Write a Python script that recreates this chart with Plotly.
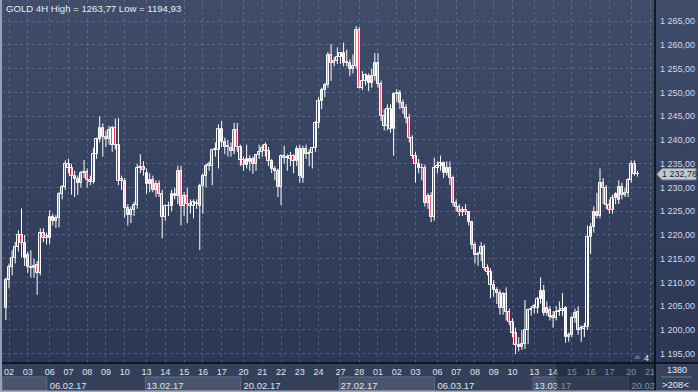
import plotly.graph_objects as go
import pandas as pd

# ---------------- data ----------------
opens = [
    1204.6, 1210.5, 1213.3, 1215.1, 1217.5, 1220.0, 1218.3, 1215.7, 1213.3, 1213.0,
    1213.6, 1212.0, 1220.5, 1219.3, 1219.3, 1223.7, 1223.0, 1223.5, 1228.7, 1230.0,
    1235.0, 1234.0, 1232.5, 1231.8, 1231.0, 1233.0, 1233.3, 1231.5, 1231.2, 1237.0,
    1240.3, 1242.6, 1240.7, 1240.2, 1239.0, 1242.5, 1239.0, 1231.4, 1231.4, 1225.6,
    1224.3, 1225.3, 1226.3, 1234.2, 1234.4, 1233.0, 1230.8, 1231.5, 1229.4, 1230.8,
    1228.7, 1223.8, 1226.0, 1226.0, 1228.7, 1228.3, 1233.5, 1226.0, 1228.2, 1226.5,
    1226.0, 1226.5, 1226.2, 1230.3, 1232.5, 1234.6, 1234.6, 1237.8, 1237.8, 1242.4,
    1239.5, 1238.5, 1238.4, 1237.7, 1242.0, 1238.6, 1235.8, 1234.7, 1236.0, 1236.0,
    1235.0, 1236.8, 1237.5, 1239.0, 1237.7, 1235.5, 1233.8, 1233.5, 1230.0, 1236.6,
    1236.2, 1236.0, 1236.6, 1235.6, 1238.2, 1232.0, 1238.0, 1237.0, 1237.3, 1238.3,
    1243.5, 1248.2, 1250.5, 1251.5, 1257.8, 1256.2, 1256.6, 1257.5, 1258.3, 1256.2,
    1256.2, 1255.0, 1255.6, 1263.1, 1251.0, 1252.5, 1253.5, 1252.0, 1253.5, 1256.2,
    1251.8, 1245.0, 1243.0, 1246.6, 1242.4, 1249.7, 1249.9, 1247.8, 1246.8, 1244.7,
    1240.5, 1236.7, 1235.0, 1234.0, 1234.2, 1226.8, 1228.3, 1223.8, 1234.2, 1234.5,
    1235.2, 1233.1, 1234.0, 1231.9, 1226.8, 1225.8, 1224.8, 1225.3, 1224.8, 1222.7,
    1217.8, 1215.7, 1216.0, 1217.5, 1213.0, 1212.2, 1209.5, 1208.4, 1207.8, 1204.6,
    1207.5, 1203.8, 1201.7, 1199.4, 1196.9, 1196.5, 1197.0, 1200.0, 1204.2, 1205.0,
    1204.6, 1206.6, 1208.2, 1204.6, 1204.2, 1203.0, 1202.5, 1203.8, 1204.0, 1204.6,
    1198.6, 1198.9, 1202.5, 1203.8, 1200.0, 1200.2, 1200.6, 1219.5, 1221.6, 1224.8,
    1224.1, 1231.0, 1229.8, 1226.3, 1225.2, 1227.7, 1227.3, 1230.0, 1228.4, 1228.9,
    1231.5, 1235.0, 1232.9,
]
highs = [
    1211.0, 1214.0, 1216.8, 1218.5, 1221.0, 1225.6, 1220.0, 1216.5, 1216.8, 1215.0,
    1214.5, 1221.4, 1221.4, 1220.5, 1225.2, 1224.5, 1224.2, 1229.0, 1230.5, 1235.7,
    1236.0, 1235.0, 1233.5, 1232.5, 1233.5, 1235.8, 1234.0, 1232.5, 1238.4, 1240.5,
    1245.0, 1243.5, 1242.0, 1243.0, 1243.0, 1244.5, 1244.6, 1232.5, 1232.0, 1226.5,
    1226.0, 1227.0, 1235.0, 1237.0, 1235.5, 1234.0, 1233.0, 1232.5, 1231.5, 1231.5,
    1229.5, 1226.5, 1227.0, 1229.5, 1230.0, 1234.6, 1234.6, 1229.0, 1230.0, 1227.5,
    1227.5, 1227.5, 1230.8, 1233.0, 1235.0, 1235.5, 1238.0, 1239.5, 1243.3, 1244.0,
    1240.5, 1240.0, 1239.5, 1243.6, 1243.6, 1239.0, 1236.5, 1239.0, 1236.8, 1236.5,
    1237.0, 1239.0, 1239.0, 1239.5, 1238.5, 1236.0, 1234.5, 1234.0, 1237.0, 1238.8,
    1237.0, 1237.5, 1237.0, 1238.8, 1239.0, 1238.8, 1239.0, 1238.0, 1238.5, 1244.0,
    1249.0, 1251.0, 1252.0, 1258.5, 1260.2, 1257.5, 1259.5, 1258.5, 1260.5, 1259.0,
    1257.0, 1258.0, 1264.0, 1263.77, 1254.5, 1254.0, 1254.0, 1255.0, 1258.3, 1258.3,
    1252.5, 1246.5, 1247.5, 1247.5, 1250.0, 1250.7, 1250.5, 1248.5, 1247.5, 1245.5,
    1241.0, 1237.5, 1236.0, 1235.0, 1234.8, 1228.8, 1229.0, 1236.3, 1235.5, 1236.7,
    1235.5, 1235.5, 1235.5, 1232.5, 1227.5, 1226.5, 1226.0, 1226.5, 1225.0, 1223.0,
    1218.5, 1216.5, 1218.5, 1218.0, 1213.8, 1213.0, 1210.5, 1209.0, 1208.5, 1208.0,
    1209.0, 1204.5, 1202.5, 1200.5, 1198.5, 1200.0, 1206.3, 1204.5, 1205.0, 1205.5,
    1207.0, 1211.1, 1209.5, 1206.0, 1205.0, 1204.0, 1205.0, 1206.0, 1207.8, 1205.0,
    1199.5, 1203.0, 1204.5, 1205.0, 1201.0, 1201.5, 1222.0, 1222.5, 1226.0, 1228.9,
    1234.0, 1232.0, 1230.5, 1227.5, 1228.5, 1229.0, 1231.5, 1231.0, 1230.0, 1232.0,
    1235.7, 1235.7, 1233.5,
]
lows = [
    1202.1, 1208.8, 1211.5, 1214.0, 1216.5, 1215.3, 1213.5, 1212.0, 1211.0, 1211.0,
    1207.4, 1211.5, 1218.5, 1218.0, 1218.0, 1222.0, 1221.5, 1221.6, 1227.5, 1229.5,
    1233.0, 1228.5, 1228.0, 1228.5, 1230.0, 1232.0, 1230.0, 1230.5, 1230.8, 1236.0,
    1239.5, 1236.5, 1238.5, 1239.0, 1237.5, 1238.0, 1230.5, 1229.5, 1223.7, 1222.0,
    1222.5, 1224.0, 1225.5, 1233.0, 1232.5, 1228.7, 1229.0, 1229.0, 1228.0, 1228.0,
    1219.3, 1223.0, 1224.0, 1225.0, 1227.5, 1226.5, 1222.0, 1224.0, 1222.5, 1224.5,
    1223.5, 1225.5, 1216.8, 1224.5, 1230.0, 1233.5, 1230.5, 1236.5, 1234.0, 1238.5,
    1237.0, 1236.5, 1236.5, 1237.0, 1237.5, 1234.5, 1233.5, 1234.0, 1233.5, 1232.9,
    1233.5, 1236.0, 1236.5, 1236.5, 1234.5, 1233.0, 1231.5, 1228.0, 1226.3, 1235.0,
    1233.5, 1234.5, 1233.0, 1234.5, 1231.0, 1231.0, 1236.0, 1234.5, 1234.0, 1237.5,
    1242.5, 1246.5, 1249.0, 1251.0, 1252.4, 1255.5, 1256.0, 1256.0, 1255.5, 1255.5,
    1253.5, 1254.0, 1255.0, 1250.8, 1250.5, 1251.5, 1250.3, 1251.0, 1252.5, 1251.0,
    1244.0, 1242.0, 1242.0, 1241.5, 1236.7, 1248.0, 1246.5, 1245.5, 1243.5, 1239.5,
    1236.0, 1231.0, 1233.0, 1231.5, 1226.0, 1225.5, 1222.7, 1223.0, 1233.0, 1233.5,
    1232.0, 1232.5, 1230.5, 1226.0, 1225.0, 1224.0, 1224.0, 1224.2, 1222.0, 1217.0,
    1214.0, 1213.5, 1214.5, 1212.5, 1211.5, 1206.7, 1207.0, 1205.5, 1203.2, 1203.2,
    1202.0, 1201.0, 1198.5, 1194.93, 1195.5, 1195.8, 1196.0, 1197.0, 1203.0, 1203.5,
    1203.5, 1205.5, 1203.0, 1203.0, 1202.0, 1200.5, 1202.0, 1203.0, 1203.0, 1197.3,
    1197.5, 1198.5, 1201.5, 1199.0, 1197.5, 1198.5, 1200.0, 1216.0, 1220.5, 1223.5,
    1223.5, 1226.5, 1225.5, 1224.5, 1224.5, 1226.5, 1226.5, 1227.5, 1228.0, 1228.0,
    1231.0, 1232.5, 1232.3,
]
closes = [
    1210.5, 1213.3, 1215.1, 1217.5, 1220.0, 1218.3, 1215.1, 1213.3, 1213.0, 1213.5,
    1212.0, 1220.5, 1219.3, 1219.8, 1223.7, 1223.0, 1223.5, 1228.7, 1230.0, 1235.0,
    1234.0, 1232.5, 1231.8, 1231.0, 1233.0, 1233.3, 1231.5, 1231.2, 1237.0, 1240.3,
    1242.6, 1240.7, 1240.2, 1242.0, 1242.5, 1239.0, 1231.4, 1231.8, 1225.6, 1224.3,
    1225.3, 1226.3, 1234.2, 1234.4, 1233.7, 1230.8, 1231.5, 1229.4, 1230.8, 1228.7,
    1223.8, 1226.0, 1226.2, 1228.7, 1228.3, 1233.5, 1226.0, 1228.2, 1226.5, 1226.0,
    1227.0, 1226.5, 1230.3, 1232.5, 1234.6, 1235.0, 1237.8, 1238.0, 1242.4, 1239.5,
    1238.5, 1238.8, 1237.7, 1242.0, 1238.6, 1235.8, 1234.7, 1236.0, 1235.3, 1235.0,
    1236.8, 1237.5, 1238.4, 1237.7, 1235.5, 1233.8, 1233.5, 1230.1, 1236.6, 1236.2,
    1236.3, 1236.6, 1235.6, 1238.2, 1232.5, 1238.0, 1237.0, 1237.3, 1238.3, 1243.5,
    1248.2, 1250.5, 1251.5, 1257.8, 1256.2, 1256.6, 1257.5, 1258.3, 1256.2, 1256.3,
    1255.0, 1255.6, 1263.1, 1251.0, 1252.5, 1253.7, 1252.0, 1253.5, 1256.2, 1251.8,
    1245.0, 1243.0, 1246.6, 1242.4, 1249.7, 1249.9, 1247.8, 1246.8, 1244.7, 1240.5,
    1236.7, 1235.0, 1234.0, 1234.2, 1226.8, 1228.3, 1223.8, 1234.2, 1234.5, 1235.2,
    1233.1, 1234.0, 1231.9, 1226.8, 1225.8, 1224.8, 1225.3, 1224.8, 1222.7, 1217.8,
    1215.7, 1216.0, 1217.5, 1213.0, 1212.2, 1209.5, 1208.4, 1207.8, 1204.6, 1207.5,
    1203.8, 1201.7, 1199.4, 1196.9, 1196.5, 1197.0, 1200.0, 1204.2, 1204.4, 1204.6,
    1206.6, 1208.2, 1203.6, 1203.6, 1202.7, 1202.5, 1203.8, 1204.0, 1204.4, 1198.6,
    1198.9, 1202.5, 1203.6, 1200.0, 1200.4, 1200.6, 1219.5, 1221.6, 1224.8, 1224.1,
    1231.0, 1229.8, 1226.3, 1225.2, 1227.7, 1228.6, 1230.1, 1228.4, 1228.9, 1231.5,
    1235.0, 1232.9, 1232.78,
]

y_ticks = [1195, 1200, 1205, 1210, 1215, 1220, 1225, 1230, 1235, 1240,
           1245, 1250, 1255, 1260, 1265]
title_text = "GOLD 4H High = 1263,77 Low = 1194,93"
last_price_text = "1 232,78"
corner_top_text = "1380"
corner_bottom_text = ">208<"
marker_text = "4"
series_start = "2017-02-01 20:00"
axis_end = "2017-03-21 20:00"

# ---------------- time slots (4H bars, weekdays + Sunday evening bar) ----------------
all_times = pd.date_range(series_start, axis_end, freq="4h")
slots = [t for t in all_times if t.weekday() < 5 or (t.weekday() == 6 and t.hour == 20)]
n = len(closes)
xs = list(range(n))

day_ticks = [i for i, t in enumerate(slots) if t.hour == 0 and t.weekday() < 5]
day_text = [slots[i].strftime("%d") for i in day_ticks]
week_ticks = [i for i, t in enumerate(slots) if t.hour == 0 and t.weekday() == 0]
week_text = [slots[i].strftime("%d.%m.%y") for i in week_ticks]
# the last week label is cut off by the price-axis corner in the reference
week_text[-1] = slots[week_ticks[-1]].strftime("%d.%m")

# ---------------- geometry / style ----------------
W, H = 698, 392
ML, MR, MT, MB = 2, 43, 0, 29
PW, PH = W - ML - MR, H - MT - MB
YTOP, YBOT = 1269.47, 1193.05
X0 = -1.24
X1 = X0 + PW / 3.127


def xp(px):
    return (px - ML) / PW


def yp(py):
    return (MT + PH - py) / PH


TOP_RGB = (64, 77, 106)
BOT_RGB = (43, 55, 84)


def grad(frac):
    c = [round(a + (b - a) * frac) for a, b in zip(TOP_RGB, BOT_RGB)]
    return "rgb(%d,%d,%d)" % tuple(c)


RED = "#ec0f3c"

fig = go.Figure()

# wicks
wx, wy = [], []
for i in xs:
    wx += [i, i, None]
    wy += [lows[i], highs[i], None]
fig.add_trace(go.Scatter(x=wx, y=wy, mode="lines", line=dict(color="white", width=1),
                         hoverinfo="skip", showlegend=False))

# bodies
bases, heights, fills = [], [], []
for o, c in zip(opens, closes):
    lo, hi = min(o, c), max(o, c)
    bases.append(lo)
    heights.append(max(hi - lo, 0.15))
    if c < o:
        fills.append(RED)
    else:
        mid = (lo + hi) / 2
        fills.append(grad((YTOP - mid) / (YTOP - YBOT)))
fig.add_trace(go.Bar(x=xs, y=heights, base=bases, width=0.7,
                     marker=dict(color=fills, line=dict(color="white", width=1)),
                     hoverinfo="skip", showlegend=False))

# invisible trace to activate the week-label axis
fig.add_trace(go.Scatter(x=[week_ticks[0]], y=[closes[0]], xaxis="x2", mode="markers",
                         marker=dict(opacity=0), hoverinfo="skip", showlegend=False))

shapes = []
# background gradient (plot + right axis area)
nb = 60
for k in range(nb):
    y0 = PH * k / nb
    y1 = PH * (k + 1) / nb
    shapes.append(dict(type="rect", xref="paper", yref="paper", layer="below",
                       x0=xp(0), x1=xp(W), y0=yp(y1 + 0.5), y1=yp(y0),
                       fillcolor=grad((y0 + y1) / 2 / PH), line=dict(width=0)))
# bottom strip
shapes.append(dict(type="rect", xref="paper", yref="paper", layer="below",
                   x0=xp(0), x1=xp(W), y0=yp(H), y1=yp(PH),
                   fillcolor="rgb(52,63,90)", line=dict(width=0)))
# alternating week boxes in the bottom row
box_weeks = [(X0 + 0.6, week_ticks[0])] + [
    (week_ticks[k], week_ticks[k + 1]) for k in range(1, len(week_ticks) - 1, 2)]
for a, b in box_weeks:
    shapes.append(dict(type="rect", xref="x", yref="paper", layer="below",
                       x0=a - 0.4, x1=b - 0.9, y0=yp(390.5), y1=yp(377),
                       fillcolor="rgb(72,84,110)", line=dict(color="rgb(96,108,132)", width=1)))
# dimmed region on the bottom right
shapes.append(dict(type="rect", xref="paper", yref="paper", layer="above",
                   x0=xp(556), x1=xp(655), y0=yp(391), y1=yp(363.5),
                   fillcolor="rgba(22,30,50,0.45)", line=dict(width=0)))
# corner box
shapes.append(dict(type="rect", xref="paper", yref="paper", layer="above",
                   x0=xp(655), x1=xp(698), y0=yp(391), y1=yp(363.5),
                   fillcolor="rgb(55,66,93)", line=dict(width=0)))
shapes.append(dict(type="line", xref="paper", yref="paper", layer="above",
                   x0=xp(661), x1=xp(692), y0=yp(377), y1=yp(377),
                   line=dict(color="rgba(150,165,190,0.6)", width=1)))
# separators
shapes.append(dict(type="line", xref="paper", yref="paper", layer="above",
                   x0=xp(0), x1=xp(W), y0=yp(363), y1=yp(363),
                   line=dict(color="#070b12", width=1.5)))
shapes.append(dict(type="line", xref="paper", yref="paper", layer="above",
                   x0=xp(655), x1=xp(655), y0=yp(H), y1=yp(0),
                   line=dict(color="#070b12", width=1.5)))
# frame edges
shapes.append(dict(type="rect", xref="paper", yref="paper", layer="above",
                   x0=xp(0), x1=xp(2), y0=yp(H), y1=yp(0),
                   fillcolor="rgb(150,160,178)", line=dict(width=0)))
shapes.append(dict(type="rect", xref="paper", yref="paper", layer="above",
                   x0=xp(0), x1=xp(W), y0=yp(H), y1=yp(390.5),
                   fillcolor="rgb(160,168,184)", line=dict(width=0)))
# small triangle marker near "4"
shapes.append(dict(type="path", xref="paper", yref="paper", layer="above",
                   path="M %f,%f L %f,%f L %f,%f Z" % (xp(634), yp(359), xp(641), yp(359),
                                                      xp(637.5), yp(354)),
                   fillcolor="rgb(95,106,130)", line=dict(width=0)))
# last price tag
last = closes[-1]
half = 5.5 / (PH / (YTOP - YBOT))
shapes.append(dict(type="path", xref="paper", yref="y", layer="above",
                   path="M %f,%f L %f,%f L %f,%f L %f,%f L %f,%f Z" % (
                       xp(657), last, xp(662), last + half, xp(696), last + half,
                       xp(696), last - half, xp(662), last - half),
                   fillcolor="rgb(196,200,208)", line=dict(color="rgb(150,156,168)", width=1)))

annotations = [
    dict(text=title_text, xref="paper", yref="paper", x=xp(4), y=yp(8.5),
         xanchor="left", yanchor="middle", showarrow=False,
         font=dict(size=9.6, color="#e8edf6")),
    dict(text=last_price_text, xref="paper", yref="y", x=xp(679), y=last,
         xanchor="center", yanchor="middle", showarrow=False,
         font=dict(size=9, color="#1b2233")),
    dict(text=corner_top_text, xref="paper", yref="paper", x=xp(677), y=yp(370),
         xanchor="center", yanchor="middle", showarrow=False,
         font=dict(size=9, color="#e3e9f3")),
    dict(text=corner_bottom_text, xref="paper", yref="paper", x=xp(675), y=yp(384),
         xanchor="center", yanchor="middle", showarrow=False,
         font=dict(size=9.5, color="#e3e9f3")),
    dict(text=marker_text, xref="paper", yref="paper", x=xp(646.5), y=yp(357.5),
         xanchor="center", yanchor="middle", showarrow=False,
         font=dict(size=9, color="#e3e9f3")),
]

grid_col = "rgba(125,140,170,0.42)"
fig.update_layout(
    width=W, height=H,
    margin=dict(l=ML, r=MR, t=MT, b=MB, pad=0),
    paper_bgcolor="rgb(52,63,90)",
    plot_bgcolor="rgba(0,0,0,0)",
    showlegend=False,
    separators=", ",
    font=dict(family="Liberation Sans, Arial, sans-serif", size=9, color="#d2dbea"),
    shapes=shapes,
    annotations=annotations,
    bargap=0,
    xaxis=dict(range=[X0, X1], tickmode="array", tickvals=day_ticks, ticktext=day_text,
               showgrid=True, gridcolor=grid_col, griddash="3px,3px", gridwidth=1,
               ticks="", showline=False, zeroline=False, ticklabelstandoff=2,
               tickfont=dict(size=9, color="#dfe6f1"), fixedrange=True),
    xaxis2=dict(range=[X0, X1], overlaying="x", side="bottom", anchor="y",
                tickmode="array", tickvals=week_ticks, ticktext=week_text,
                ticklabelposition="outside right", ticklabelstandoff=15,
                showgrid=False, ticks="", showline=False, zeroline=False,
                tickfont=dict(size=9.5, color="#dfe6f1"), fixedrange=True),
    yaxis=dict(range=[YBOT, YTOP], side="right", tickmode="array", tickvals=y_ticks,
               tickformat=",.2f", showgrid=True, gridcolor=grid_col, griddash="3px,3px",
               gridwidth=1, ticks="", showline=False, zeroline=False,
               ticklabelstandoff=4, tickfont=dict(size=9, color="#d2dbea"),
               fixedrange=True),
)

fig.write_html("out.html")
